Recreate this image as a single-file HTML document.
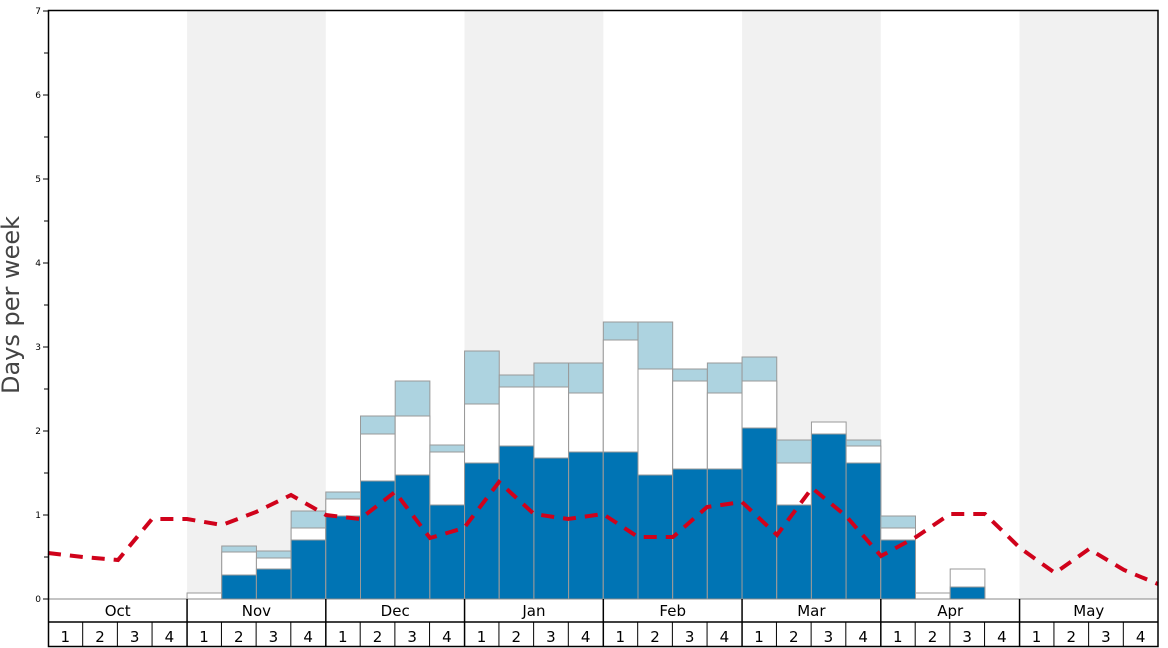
<!DOCTYPE html>
<html><head><meta charset="utf-8"><style>body{margin:0;background:#fff}svg{display:block;font-family:"DejaVu Sans","Liberation Sans",sans-serif}</style></head><body>
<svg width="1168" height="648" viewBox="0 0 1168 648" xmlns="http://www.w3.org/2000/svg">
<rect x="187.06" y="10" width="138.75" height="589" fill="#f1f1f1"/>
<rect x="464.56" y="10" width="138.75" height="589" fill="#f1f1f1"/>
<rect x="742.06" y="10" width="138.75" height="589" fill="#f1f1f1"/>
<rect x="1019.56" y="10" width="138.44" height="589" fill="#f1f1f1"/>
<g stroke="#999" stroke-width="1">
<rect x="187.06" y="593" width="34.69" height="6" fill="#fff"/>
<rect x="221.75" y="546" width="34.69" height="53" fill="#add3e0"/><rect x="221.75" y="552" width="34.69" height="47" fill="#fff"/><rect x="221.75" y="575" width="34.69" height="24" fill="#0074b4"/>
<rect x="256.44" y="551" width="34.69" height="48" fill="#add3e0"/><rect x="256.44" y="558" width="34.69" height="41" fill="#fff"/><rect x="256.44" y="569" width="34.69" height="30" fill="#0074b4"/>
<rect x="291.13" y="511" width="34.69" height="88" fill="#add3e0"/><rect x="291.13" y="528" width="34.69" height="71" fill="#fff"/><rect x="291.13" y="540" width="34.69" height="59" fill="#0074b4"/>
<rect x="325.81" y="492" width="34.69" height="107" fill="#add3e0"/><rect x="325.81" y="499" width="34.69" height="100" fill="#fff"/><rect x="325.81" y="516" width="34.69" height="83" fill="#0074b4"/>
<rect x="360.5" y="416" width="34.69" height="183" fill="#add3e0"/><rect x="360.5" y="434" width="34.69" height="165" fill="#fff"/><rect x="360.5" y="481" width="34.69" height="118" fill="#0074b4"/>
<rect x="395.19" y="381" width="34.69" height="218" fill="#add3e0"/><rect x="395.19" y="416" width="34.69" height="183" fill="#fff"/><rect x="395.19" y="475" width="34.69" height="124" fill="#0074b4"/>
<rect x="429.88" y="445" width="34.69" height="154" fill="#add3e0"/><rect x="429.88" y="452" width="34.69" height="147" fill="#fff"/><rect x="429.88" y="505" width="34.69" height="94" fill="#0074b4"/>
<rect x="464.56" y="351" width="34.69" height="248" fill="#add3e0"/><rect x="464.56" y="404" width="34.69" height="195" fill="#fff"/><rect x="464.56" y="463" width="34.69" height="136" fill="#0074b4"/>
<rect x="499.25" y="375" width="34.69" height="224" fill="#add3e0"/><rect x="499.25" y="387" width="34.69" height="212" fill="#fff"/><rect x="499.25" y="446" width="34.69" height="153" fill="#0074b4"/>
<rect x="533.94" y="363" width="34.69" height="236" fill="#add3e0"/><rect x="533.94" y="387" width="34.69" height="212" fill="#fff"/><rect x="533.94" y="458" width="34.69" height="141" fill="#0074b4"/>
<rect x="568.63" y="363" width="34.69" height="236" fill="#add3e0"/><rect x="568.63" y="393" width="34.69" height="206" fill="#fff"/><rect x="568.63" y="452" width="34.69" height="147" fill="#0074b4"/>
<rect x="603.31" y="322" width="34.69" height="277" fill="#add3e0"/><rect x="603.31" y="340" width="34.69" height="259" fill="#fff"/><rect x="603.31" y="452" width="34.69" height="147" fill="#0074b4"/>
<rect x="638" y="322" width="34.69" height="277" fill="#add3e0"/><rect x="638" y="369" width="34.69" height="230" fill="#fff"/><rect x="638" y="475" width="34.69" height="124" fill="#0074b4"/>
<rect x="672.69" y="369" width="34.69" height="230" fill="#add3e0"/><rect x="672.69" y="381" width="34.69" height="218" fill="#fff"/><rect x="672.69" y="469" width="34.69" height="130" fill="#0074b4"/>
<rect x="707.38" y="363" width="34.69" height="236" fill="#add3e0"/><rect x="707.38" y="393" width="34.69" height="206" fill="#fff"/><rect x="707.38" y="469" width="34.69" height="130" fill="#0074b4"/>
<rect x="742.06" y="357" width="34.69" height="242" fill="#add3e0"/><rect x="742.06" y="381" width="34.69" height="218" fill="#fff"/><rect x="742.06" y="428" width="34.69" height="171" fill="#0074b4"/>
<rect x="776.75" y="440" width="34.69" height="159" fill="#add3e0"/><rect x="776.75" y="463" width="34.69" height="136" fill="#fff"/><rect x="776.75" y="505" width="34.69" height="94" fill="#0074b4"/>
<rect x="811.44" y="422" width="34.69" height="177" fill="#fff"/><rect x="811.44" y="434" width="34.69" height="165" fill="#0074b4"/>
<rect x="846.13" y="440" width="34.69" height="159" fill="#add3e0"/><rect x="846.13" y="446" width="34.69" height="153" fill="#fff"/><rect x="846.13" y="463" width="34.69" height="136" fill="#0074b4"/>
<rect x="880.81" y="516" width="34.69" height="83" fill="#add3e0"/><rect x="880.81" y="528" width="34.69" height="71" fill="#fff"/><rect x="880.81" y="540" width="34.69" height="59" fill="#0074b4"/>
<rect x="915.5" y="593" width="34.69" height="6" fill="#fff"/>
<rect x="950.19" y="569" width="34.69" height="30" fill="#fff"/><rect x="950.19" y="587" width="34.69" height="12" fill="#0074b4"/>
</g>
<polyline fill="none" stroke="#d0021b" stroke-width="4" stroke-dasharray="13,9" points="48,553 83,557 118,560 152,519 187,519 222,525 256,512 291,495 326,515 360,519 395,492 430,538 464,528 499,482 534,514 568,519 603,514 638,537 673,537 707,507 742,502 777,535 812,488 846,516 881,556 916,537 950,514 985,514 1020,548 1055,573 1089,549 1124,570 1158,584"/>
<line x1="48" y1="599" x2="1158" y2="599" stroke="#888" stroke-width="1"/>
<rect x="48.5" y="10.5" width="1109.5" height="636" fill="none" stroke="#000" stroke-width="1.5"/>
<line x1="48" y1="622" x2="1158" y2="622" stroke="#000" stroke-width="1.5"/>
<g stroke="#000" stroke-width="1.5">
<line x1="187.06" y1="599" x2="187.06" y2="646"/><line x1="325.81" y1="599" x2="325.81" y2="646"/><line x1="464.56" y1="599" x2="464.56" y2="646"/><line x1="603.31" y1="599" x2="603.31" y2="646"/><line x1="742.06" y1="599" x2="742.06" y2="646"/><line x1="880.81" y1="599" x2="880.81" y2="646"/><line x1="1019.56" y1="599" x2="1019.56" y2="646"/>
</g>
<g stroke="#000" stroke-width="1" id="wk"></g>
<g font-size="15" text-anchor="middle" fill="#000">
<text x="117.7" y="616">Oct</text><text x="256.4" y="616">Nov</text><text x="395.2" y="616">Dec</text><text x="533.9" y="616">Jan</text><text x="672.7" y="616">Feb</text><text x="811.4" y="616">Mar</text><text x="950.2" y="616">Apr</text><text x="1088.8" y="616">May</text>
</g>
<g id="wl" font-size="15" text-anchor="middle"></g>
<g font-size="9" text-anchor="end" fill="#000">
<text x="41" y="602">0</text><text x="41" y="518">1</text><text x="41" y="434">2</text><text x="41" y="350">3</text><text x="41" y="266">4</text><text x="41" y="182">5</text><text x="41" y="98">6</text><text x="41" y="14">7</text>
</g>
<g stroke="#000" stroke-width="1">
<line x1="43" y1="599" x2="48" y2="599"/><line x1="43" y1="515" x2="48" y2="515"/><line x1="43" y1="431" x2="48" y2="431"/><line x1="43" y1="347" x2="48" y2="347"/><line x1="43" y1="263" x2="48" y2="263"/><line x1="43" y1="179" x2="48" y2="179"/><line x1="43" y1="95" x2="48" y2="95"/><line x1="43" y1="11" x2="48" y2="11"/>
<line x1="44" y1="557" x2="48" y2="557"/><line x1="44" y1="473" x2="48" y2="473"/><line x1="44" y1="389" x2="48" y2="389"/><line x1="44" y1="305" x2="48" y2="305"/><line x1="44" y1="221" x2="48" y2="221"/><line x1="44" y1="137" x2="48" y2="137"/><line x1="44" y1="53" x2="48" y2="53"/>
</g>
<text transform="translate(19,305) rotate(-90)" font-size="24" fill="#444" text-anchor="middle">Days per week</text>
<script>
var wk=document.getElementById('wk'),wl=document.getElementById('wl'),ns='http://www.w3.org/2000/svg';
for(var i=0;i<32;i++){var x=48+34.6875*i;
if(i%4){var l=document.createElementNS(ns,'line');l.setAttribute('x1',x);l.setAttribute('x2',x);l.setAttribute('y1',622);l.setAttribute('y2',646);wk.appendChild(l);}
var t=document.createElementNS(ns,'text');t.setAttribute('x',x+17.3);t.setAttribute('y',642);t.textContent=(i%4)+1;wl.appendChild(t);}
</script>
</svg>
</body></html>
